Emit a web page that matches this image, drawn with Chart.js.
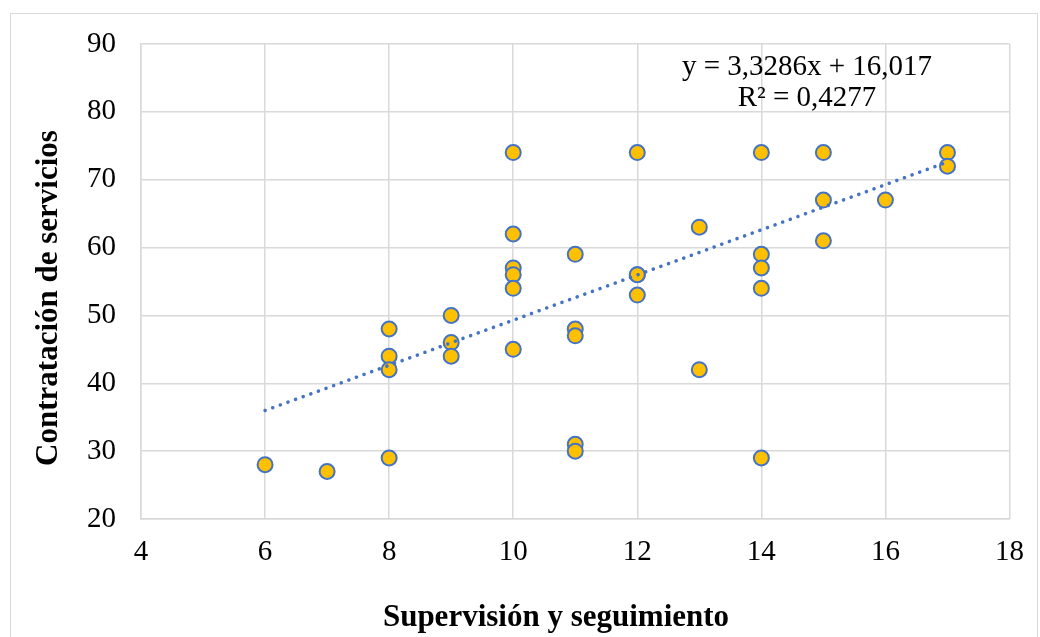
<!DOCTYPE html>
<html>
<head>
<meta charset="utf-8">
<script src="https://cdn.jsdelivr.net/npm/chart.js@4/dist/chart.umd.min.js"></script>
<style>
  html, body { margin: 0; padding: 0; background: #fff; }
  #wrap { position: relative; width: 1040px; height: 637px; }
</style>
</head>
<body>
<div id="wrap"><canvas id="scatterChart"></canvas></div>
<script>
// values
const supervision = [6, 7, 8, 8, 8, 8, 9, 9, 9, 10, 10, 10, 10, 10, 10, 11, 11, 11, 11, 11,
                     12, 12, 12, 12, 13, 13, 14, 14, 14, 14, 14, 15, 15, 15, 16, 17, 17];
const contratacion = [28, 27, 48, 44, 42, 29, 50, 46, 44, 74, 62, 57, 56, 54, 45, 59, 48, 47, 31, 30,
                      74, 56, 56, 53, 63, 42, 74, 59, 57, 54, 29, 74, 67, 61, 67, 74, 72];
const xTicks = [4, 6, 8, 10, 12, 14, 16, 18];
const yTicks = [20, 30, 40, 50, 60, 70, 80, 90];
const slope = 3.3286;
const intercept = 16.017;
const equationLines = ['y = 3,3286x + 16,017', 'R\u00b2 = 0,4277'];

const points = supervision.map((x, i) => ({ x: x, y: contratacion[i] }));
const xMin = Math.min(...supervision);
const xMax = Math.max(...supervision);
const trend = [xMin, xMax].map(x => ({ x: x, y: slope * x + intercept }));

const serif = '"Liberation Serif", "Times New Roman", serif';
const grey = '#d9d9d9';

// frame, axis titles and the trendline label
const extras = {
    id: 'extras',
    beforeDraw(chart) {
        const c = chart.ctx;
        c.save();
        c.strokeStyle = grey;
        c.lineWidth = 1;
        c.strokeRect(10.5, 13.5, 1027, 660);
        c.restore();
    },
    afterDraw(chart) {
        const c = chart.ctx;
        c.save();
        c.fillStyle = '#000';
        c.textAlign = 'center';
        c.textBaseline = 'alphabetic';
        c.font = 'bold 31px ' + serif;
        c.fillText('Supervisión y seguimiento', 556, 626);
        c.save();
        c.translate(57, 298);
        c.rotate(-Math.PI / 2);
        c.fillText('Contratación de servicios', 0, 0);
        c.restore();
        c.font = '29px ' + serif;
        c.fillText(equationLines[0], 807, 75);
        c.fillText(equationLines[1], 807, 106);
        c.restore();
    }
};

const ctx = document.getElementById('scatterChart').getContext('2d');
const scatterChart = new Chart(ctx, {
    type: 'scatter',
    data: {
        datasets: [{
            label: 'Tendencia',
            data: trend,
            showLine: true,
            borderColor: '#4472c4',
            borderWidth: 3.5,
            borderDash: [0.1, 8],
            borderCapStyle: 'round',
            pointRadius: 0,
            order: 0
        }, {
            label: 'Datos',
            data: points,
            backgroundColor: '#ffc000',
            borderColor: '#4472c4',
            borderWidth: 2,
            pointRadius: 7.5,
            order: 1
        }]
    },
    options: {
        responsive: true,
        maintainAspectRatio: false,
        animation: false,
        layout: { padding: { left: 0, top: 44, right: 30, bottom: 0 } },
        plugins: {
            legend: { display: false },
            tooltip: { enabled: false }
        },
        scales: {
            x: {
                type: 'linear',
                min: xTicks[0],
                max: xTicks[xTicks.length - 1],
                afterBuildTicks: axis => { axis.ticks = xTicks.map(v => ({ value: v })); },
                afterFit: axis => { axis.height = 118; },
                grid: { color: grey, lineWidth: 1.5, drawTicks: false },
                border: { color: grey, width: 1.5 },
                ticks: { color: '#000', padding: 16, font: { family: serif, size: 29 } }
            },
            y: {
                type: 'linear',
                min: yTicks[0],
                max: yTicks[yTicks.length - 1],
                afterBuildTicks: axis => { axis.ticks = yTicks.map(v => ({ value: v })); },
                afterFit: axis => { axis.width = 141; },
                grid: { color: grey, lineWidth: 1.5, drawTicks: false },
                border: { color: grey, width: 1.5 },
                ticks: { color: '#000', padding: 25, font: { family: serif, size: 29 } }
            }
        }
    },
    plugins: [extras]
});
</script>
</body>
</html>
